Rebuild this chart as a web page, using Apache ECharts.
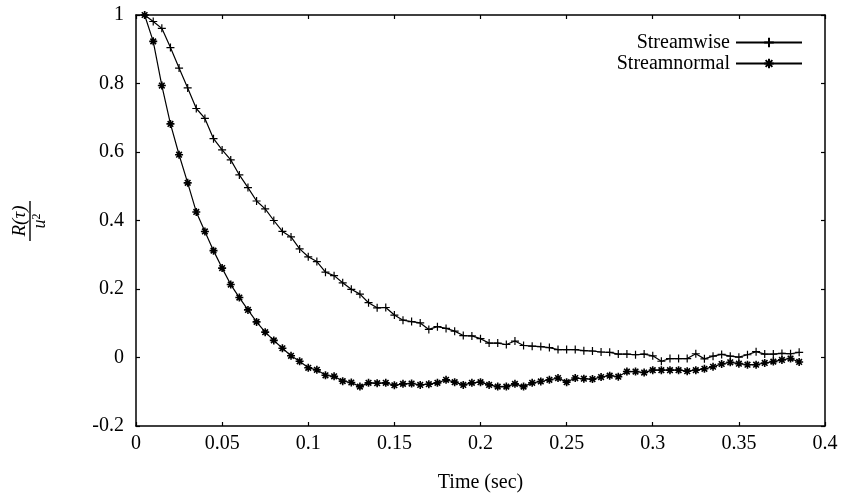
<!DOCTYPE html>
<html>
<head>
<meta charset="utf-8">
<script src="https://cdn.jsdelivr.net/npm/echarts@6/dist/echarts.min.js"></script>
<style>
  html, body { margin: 0; padding: 0; background: #fff; }
  #chart { width: 843px; height: 498px; }
</style>
</head>
<body>
<div id="chart"></div>
<script>
// Lag times (sec)
const times = [
  0.005, 0.010, 0.015, 0.020, 0.025, 0.030, 0.035, 0.040, 0.045, 0.050,
  0.055, 0.060, 0.065, 0.070, 0.075, 0.080, 0.085, 0.090, 0.095, 0.100,
  0.105, 0.110, 0.115, 0.120, 0.125, 0.130, 0.135, 0.140, 0.145, 0.150,
  0.155, 0.160, 0.165, 0.170, 0.175, 0.180, 0.185, 0.190, 0.195, 0.200,
  0.205, 0.210, 0.215, 0.220, 0.225, 0.230, 0.235, 0.240, 0.245, 0.250,
  0.255, 0.260, 0.265, 0.270, 0.275, 0.280, 0.285, 0.290, 0.295, 0.300,
  0.305, 0.310, 0.315, 0.320, 0.325, 0.330, 0.335, 0.340, 0.345, 0.350,
  0.355, 0.360, 0.365, 0.370, 0.375, 0.380, 0.385
];

// Normalised autocorrelation R(tau)/u^2, streamwise component
const streamwise = [
  1.000, 0.981, 0.961, 0.905, 0.845, 0.787, 0.727, 0.698, 0.639, 0.606,
  0.577, 0.533, 0.496, 0.457, 0.434, 0.400, 0.368, 0.352, 0.317, 0.294,
  0.280, 0.249, 0.239, 0.218, 0.199, 0.185, 0.160, 0.145, 0.146, 0.124,
  0.109, 0.105, 0.101, 0.082, 0.090, 0.085, 0.077, 0.064, 0.063, 0.055,
  0.042, 0.042, 0.038, 0.048, 0.035, 0.033, 0.032, 0.029, 0.023, 0.023,
  0.023, 0.020, 0.019, 0.016, 0.015, 0.010, 0.010, 0.008, 0.010, 0.005,
  -0.011, -0.003, -0.003, -0.003, 0.011, -0.004, 0.004, 0.009, 0.004, 0.001,
  0.008, 0.017, 0.010, 0.010, 0.012, 0.011, 0.015
];

// Normalised autocorrelation R(tau)/u^2, stream-normal component
const streamnormal = [
  1.000, 0.923, 0.794, 0.682, 0.592, 0.510, 0.425, 0.368, 0.312, 0.261,
  0.213, 0.175, 0.139, 0.104, 0.074, 0.050, 0.027, 0.005, -0.011, -0.030,
  -0.036, -0.052, -0.055, -0.069, -0.073, -0.085, -0.074, -0.075, -0.074, -0.081,
  -0.077, -0.076, -0.080, -0.078, -0.074, -0.065, -0.072, -0.080, -0.074, -0.072,
  -0.080, -0.085, -0.085, -0.077, -0.085, -0.074, -0.070, -0.065, -0.060, -0.072,
  -0.060, -0.062, -0.063, -0.057, -0.053, -0.056, -0.041, -0.041, -0.044, -0.037,
  -0.037, -0.037, -0.037, -0.040, -0.037, -0.033, -0.027, -0.019, -0.014, -0.018,
  -0.021, -0.021, -0.016, -0.012, -0.007, -0.003, -0.013
];

const seriesNames = ['Streamwise', 'Streamnormal'];
const xTitle = 'Time (sec)';

const FONT = '"Liberation Serif", "DejaVu Serif", serif';
const plusPath = 'path://M5,0L5,10M0,5L10,5';
const starPath = 'path://M5,0L5,10M0,5L10,5M1.5,1.5L8.5,8.5M8.5,1.5L1.5,8.5';

const pairs = (ys) => times.map((t, i) => [t, ys[i]]);
const fmt = (v) => String(Math.round(v * 100) / 100);

const frameAxis = (extra) => Object.assign({
  axisLine: { show: true, onZero: false, lineStyle: { color: '#000', width: 1.5 } },
  axisTick: { show: true, inside: true, length: 4, lineStyle: { color: '#000', width: 1.2 } },
  splitLine: { show: false },
  axisLabel: { show: false }
}, extra);

const chart = echarts.init(document.getElementById('chart'), null, { renderer: 'canvas' });

chart.setOption({
  animation: false,
  backgroundColor: '#fff',
  grid: { left: 136, right: 18, top: 15, bottom: 72, containLabel: false },
  legend: {
    orient: 'vertical',
    align: 'right',
    right: 35,
    top: 27,
    itemWidth: 66,
    itemHeight: 12,
    itemGap: 0,
    textStyle: { fontFamily: FONT, fontSize: 20, lineHeight: 21, color: '#000', padding: [0, 1, 0, 0] },
    data: seriesNames
  },
  xAxis: [
    frameAxis({
      type: 'value', position: 'bottom', min: 0, max: 0.4, interval: 0.05,
      axisLabel: { show: true, formatter: fmt, fontFamily: FONT, fontSize: 20, color: '#000', margin: 8 },
      name: xTitle, nameLocation: 'middle', nameGap: 47,
      nameTextStyle: { fontFamily: FONT, fontSize: 20, color: '#000' }
    }),
    frameAxis({ type: 'value', position: 'top', min: 0, max: 0.4, interval: 0.05 })
  ],
  yAxis: [
    frameAxis({
      type: 'value', position: 'left', min: -0.2, max: 1, interval: 0.2,
      axisLabel: { show: true, formatter: fmt, fontFamily: FONT, fontSize: 20, color: '#000', margin: 12 }
    }),
    frameAxis({ type: 'value', position: 'right', min: -0.2, max: 1, interval: 0.2 })
  ],
  series: [
    {
      name: seriesNames[0], type: 'line', data: pairs(streamwise),
      symbol: plusPath, symbolSize: 8, symbolKeepAspect: true, showAllSymbol: true,
      lineStyle: { color: '#000', width: 1.2 },
      itemStyle: { color: '#000', borderColor: '#000', borderWidth: 1.2 },
      emphasis: { disabled: true }
    },
    {
      name: seriesNames[1], type: 'line', data: pairs(streamnormal),
      symbol: starPath, symbolSize: 8, symbolKeepAspect: true, showAllSymbol: true,
      lineStyle: { color: '#000', width: 1.2 },
      itemStyle: { color: '#000', borderColor: '#000', borderWidth: 1.6 },
      emphasis: { disabled: true }
    }
  ],
  graphic: [
    {
      // y-axis title: R(tau) over u^2, written bottom to top
      type: 'group',
      x: 30, y: 221,
      rotation: Math.PI / 2,
      children: [
        {
          type: 'text', x: 0, y: -1,
          style: { text: 'R(τ)', font: 'italic 19px ' + FONT, fill: '#000', align: 'center', verticalAlign: 'bottom' }
        },
        {
          type: 'line',
          shape: { x1: -20, y1: 0, x2: 20, y2: 0 },
          style: { stroke: '#000', lineWidth: 1.4 }
        },
        {
          type: 'text', x: 0, y: 1,
          style: {
            text: '{u|u}{s|2}', fill: '#000', align: 'center', verticalAlign: 'top',
            rich: {
              u: { font: 'italic 18px ' + FONT, fill: '#000' },
              s: { font: '12px ' + FONT, fill: '#000', verticalAlign: 'top', padding: [0, 0, 7, 0] }
            }
          }
        }
      ]
    }
  ]
});
</script>
</body>
</html>
